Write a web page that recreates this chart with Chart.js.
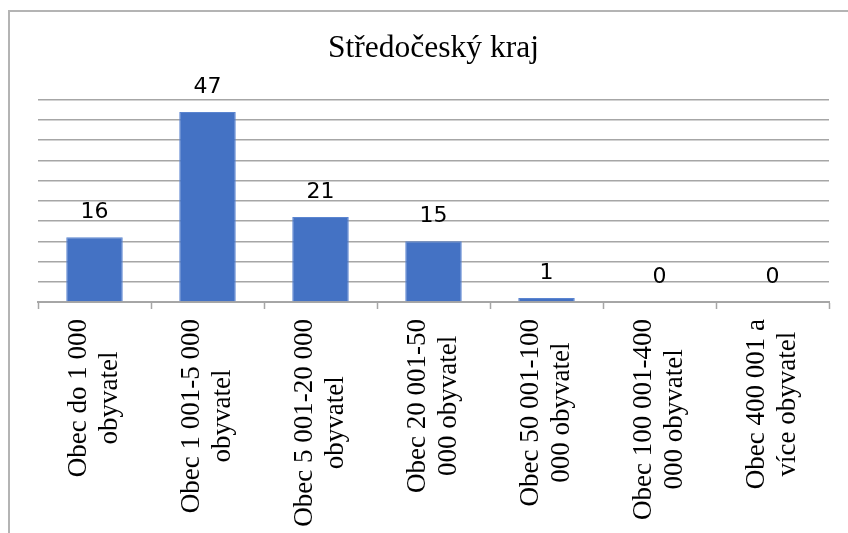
<!DOCTYPE html>
<html>
<head>
<meta charset="utf-8">
<script src="https://cdn.jsdelivr.net/npm/chart.js@4.4.1/dist/chart.umd.min.js"></script>
<style>
    html, body { margin: 0; padding: 0; background: #fff; }
    #wrap { position: relative; width: 848px; height: 533px; overflow: hidden; }
    #frame { position: absolute; left: 8px; top: 10px; width: 900px; height: 600px;
             border-top: 2px solid #b4b4b4; border-left: 2px solid #b4b4b4; pointer-events: none; }
    canvas { position: absolute; left: 0; top: 0; }
</style>
</head>
<body>
<div id="wrap">
    <canvas id="chart" width="848" height="533"></canvas>
    <div id="frame"></div>
</div>
<script>
/* Středočeský kraj — počet obcí podle velikosti */
const title = 'Středočeský kraj';
const categories = [
    ['Obec do 1 000', 'obyvatel'],
    ['Obec 1 001-5 000', 'obyvatel'],
    ['Obec 5 001-20 000', 'obyvatel'],
    ['Obec 20 001-50', '000 obyvatel'],
    ['Obec 50 001-100', '000 obyvatel'],
    ['Obec 100 001-400', '000 obyvatel'],
    ['Obec 400 001 a', 'více obyvatel']
];
const values = [16, 47, 21, 15, 1, 0, 0];
const yMin = 0, yMax = 50, yStep = 5;

const GRID = '#a6a6a6';

// hodnoty nad sloupci
const barLabels = {
    id: 'barLabels',
    afterDatasetsDraw(chart) {
        const ctx = chart.ctx;
        const meta = chart.getDatasetMeta(0);
        ctx.save();
        ctx.font = '22px "DejaVu Sans"';
        ctx.fillStyle = '#000';
        ctx.textAlign = 'center';
        ctx.textBaseline = 'alphabetic';
        meta.data.forEach((bar, i) => {
            ctx.fillText(String(values[i]), bar.x, bar.y - 19);
        });
        ctx.restore();
    }
};

// popisky osy x, otočené o 90°, řádky na střed
const xLabels = {
    id: 'xLabels',
    afterDraw(chart) {
        const ctx = chart.ctx;
        const xs = chart.scales.x;
        const lineH = 31;
        ctx.save();
        ctx.font = '27px "Liberation Serif"';
        ctx.fillStyle = '#000';
        ctx.textAlign = 'center';
        ctx.textBaseline = 'middle';
        categories.forEach((lines, i) => {
            const w = Math.max(...lines.map(l => ctx.measureText(l).width));
            const x = xs.getPixelForValue(i);
            const y = chart.chartArea.bottom + 17 + w / 2;
            ctx.save();
            ctx.translate(x, y);
            ctx.rotate(-Math.PI / 2);
            lines.forEach((l, j) => {
                ctx.fillText(l, 0, (j - (lines.length - 1) / 2) * lineH);
            });
            ctx.restore();
        });
        ctx.restore();
    }
};

new Chart(document.getElementById('chart'), {
    type: 'bar',
    data: {
        labels: categories,
        datasets: [{
            data: values,
            backgroundColor: '#4472c4',
            borderColor: '#5b85d0',
            borderWidth: 1,
            categoryPercentage: 1,
            barPercentage: 0.5
        }]
    },
    options: {
        responsive: false,
        animation: false,
        layout: { padding: { left: 38, right: 19, top: 0, bottom: 224 } },
        plugins: {
            legend: { display: false },
            tooltip: { enabled: false },
            title: {
                display: true, text: title, color: '#000',
                font: { family: '"Liberation Serif"', size: 31.5, weight: 'normal', lineHeight: 1.2 },
                padding: { top: 30, bottom: 32 }
            }
        },
        scales: {
            x: {
                ticks: { display: false },
                grid: { drawOnChartArea: false, drawTicks: true, tickLength: 7, tickColor: GRID, tickWidth: 1.5, offset: true },
                border: { display: true, color: GRID, width: 2 }
            },
            y: {
                min: yMin, max: yMax,
                ticks: { display: false, stepSize: yStep },
                grid: { color: GRID, lineWidth: 1.5, drawTicks: false },
                border: { display: false }
            }
        }
    },
    plugins: [barLabels, xLabels]
});
</script>
</body>
</html>
